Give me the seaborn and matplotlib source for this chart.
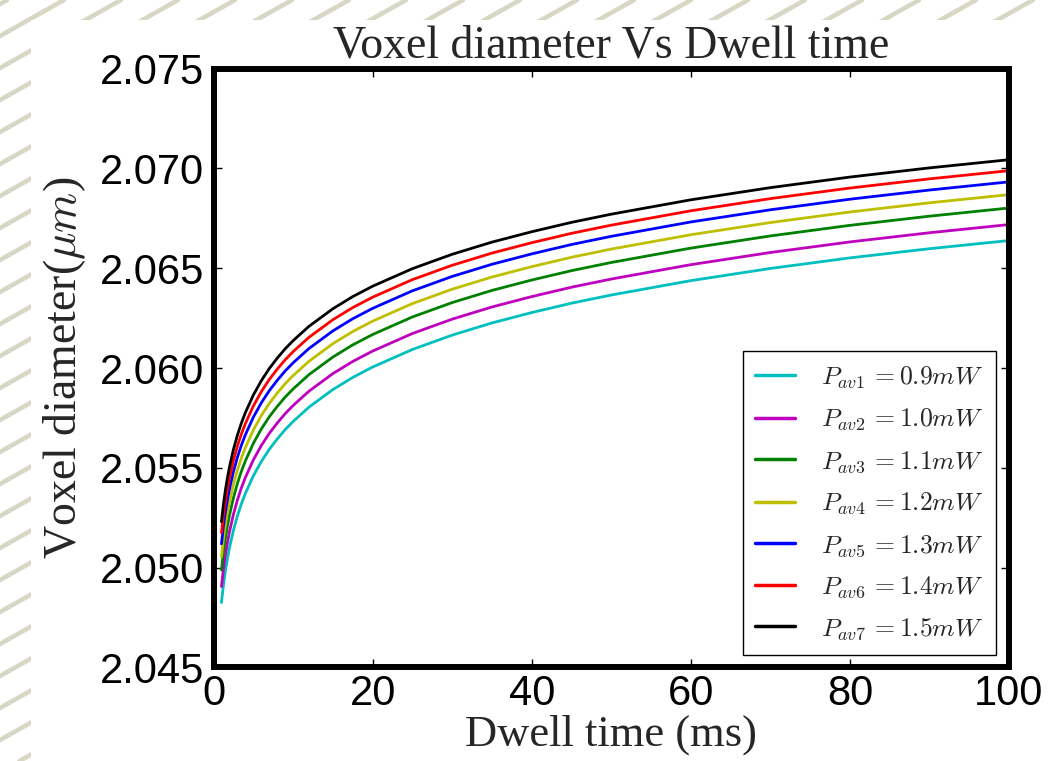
import matplotlib
matplotlib.use("Agg")
import matplotlib.pyplot as plt
from matplotlib.lines import Line2D
from matplotlib.patches import Rectangle
import seaborn as sns
import pandas as pd

# ---- data ----
dwell_time = [1, 1.25, 1.5, 1.75, 2, 2.5, 3, 3.5, 4, 5, 6, 7, 8, 9, 10, 12, 15, 17.5, 20,
              25, 30, 35, 40, 45, 50, 60, 70, 80, 90, 100]

d_p09 = [2.04825, 2.04913, 2.04985, 2.05045, 2.05098, 2.05186, 2.05258, 2.05319, 2.05371, 2.05459,
         2.05531, 2.05592, 2.05644, 2.05691, 2.05732, 2.05804, 2.05892, 2.05953, 2.06005, 2.06093,
         2.06165, 2.06226, 2.06278, 2.06325, 2.06366, 2.06438, 2.06499, 2.06552, 2.06598, 2.06639]
d_p10 = [2.04905, 2.04993, 2.05065, 2.05125, 2.05178, 2.05266, 2.05338, 2.05399, 2.05451, 2.05539,
         2.05611, 2.05672, 2.05724, 2.05771, 2.05812, 2.05884, 2.05972, 2.06033, 2.06085, 2.06173,
         2.06245, 2.06306, 2.06358, 2.06405, 2.06446, 2.06518, 2.06579, 2.06632, 2.06678, 2.06719]
d_p11 = [2.04988, 2.05076, 2.05148, 2.05208, 2.05261, 2.05349, 2.05421, 2.05482, 2.05534, 2.05622,
         2.05694, 2.05755, 2.05807, 2.05854, 2.05895, 2.05967, 2.06055, 2.06116, 2.06168, 2.06256,
         2.06328, 2.06389, 2.06441, 2.06488, 2.06529, 2.06601, 2.06662, 2.06715, 2.06761, 2.06802]
d_p12 = [2.05055, 2.05143, 2.05215, 2.05275, 2.05328, 2.05416, 2.05488, 2.05549, 2.05601, 2.05689,
         2.05761, 2.05822, 2.05874, 2.05921, 2.05962, 2.06034, 2.06122, 2.06183, 2.06235, 2.06323,
         2.06395, 2.06456, 2.06508, 2.06555, 2.06596, 2.06668, 2.06729, 2.06782, 2.06828, 2.06869]
d_p13 = [2.05119, 2.05207, 2.05279, 2.05339, 2.05392, 2.05480, 2.05552, 2.05613, 2.05665, 2.05753,
         2.05825, 2.05886, 2.05938, 2.05985, 2.06026, 2.06098, 2.06186, 2.06247, 2.06299, 2.06387,
         2.06459, 2.06520, 2.06572, 2.06619, 2.06660, 2.06732, 2.06793, 2.06846, 2.06892, 2.06933]
d_p14 = [2.05175, 2.05263, 2.05335, 2.05395, 2.05448, 2.05536, 2.05608, 2.05669, 2.05721, 2.05809,
         2.05881, 2.05942, 2.05994, 2.06041, 2.06082, 2.06154, 2.06242, 2.06303, 2.06355, 2.06443,
         2.06515, 2.06576, 2.06628, 2.06675, 2.06716, 2.06788, 2.06849, 2.06902, 2.06948, 2.06989]
d_p15 = [2.05230, 2.05318, 2.05390, 2.05450, 2.05503, 2.05591, 2.05663, 2.05724, 2.05776, 2.05864,
         2.05936, 2.05997, 2.06049, 2.06096, 2.06137, 2.06209, 2.06297, 2.06358, 2.06410, 2.06498,
         2.06570, 2.06631, 2.06683, 2.06730, 2.06771, 2.06843, 2.06904, 2.06957, 2.07003, 2.07044]

series_labels = [r"$P_{av1}\,{=}0.9mW$", r"$P_{av2}\,{=}1.0mW$", r"$P_{av3}\,{=}1.1mW$",
                 r"$P_{av4}\,{=}1.2mW$", r"$P_{av5}\,{=}1.3mW$", r"$P_{av6}\,{=}1.4mW$",
                 r"$P_{av7}\,{=}1.5mW$"]
series_values = [d_p09, d_p10, d_p11, d_p12, d_p13, d_p14, d_p15]
series_colors = ["c", "m", "g", "y", "b", "r", "k"]

x_ticks = [0, 20, 40, 60, 80, 100]
y_ticks = [2.045, 2.050, 2.055, 2.060, 2.065, 2.070, 2.075]

# ---- style ----
sns.set_style("ticks")
plt.rcParams["font.family"] = ["Liberation Sans", "DejaVu Sans"]
plt.rcParams["mathtext.fontset"] = "cm"

W, H = 1048, 761
fig = plt.figure(figsize=(W / 100, H / 100), dpi=100)
fig.patch.set_facecolor("white")

# striped backdrop along the left and top edges
slope_run = 761 * 57 / 32
for k in range(-2, 48):
    x0 = 7 + 57 * k
    fig.add_artist(Line2D([(x0 - slope_run) / W, x0 / W], [0, 1], transform=fig.transFigure,
                          color="#d8d6c4", lw=3.3, zorder=-3))
fig.add_artist(Rectangle((31 / W, 0), 1 - 31 / W, 1 - 20 / H, transform=fig.transFigure,
                         facecolor="white", edgecolor="none", zorder=-2))

ax = fig.add_axes([213.5 / W, 1 - 667.4 / H, (1009 - 213.5) / W, (667.4 - 68.7) / H])
ax.set_facecolor("white")

for vals, lab, col in zip(series_values, series_labels, series_colors):
    df = pd.DataFrame({"t": dwell_time, "d": vals})
    sns.lineplot(data=df, x="t", y="d", color=col, lw=2, label=lab, ax=ax, legend=False)

ax.set_xlim(0, 100)
ax.set_ylim(2.045, 2.075)
ax.set_xticks(x_ticks)
ax.set_yticks(y_ticks)
ax.set_xticklabels([str(v) for v in x_ticks])
ax.set_yticklabels([f"{v:.3f}" for v in y_ticks])
ax.tick_params(direction="in", length=6, width=1, top=True, right=True,
               labelsize=30, pad=7, colors="black")
ax.tick_params(axis="x", pad=5)
for sp in ax.spines.values():
    sp.set_linewidth(4.3)
    sp.set_color("black")

ax.set_title("Voxel diameter Vs Dwell time", family="Liberation Serif", fontsize=33, pad=8)
ax.set_xlabel("Dwell time (ms)", family="Liberation Serif", fontsize=32, labelpad=0)
ax.set_ylabel(r"Voxel diameter($\mu m$)", family="Liberation Serif", fontsize=33, labelpad=8)

leg = ax.legend(loc="lower right", fontsize=18.5, frameon=True, fancybox=False,
                edgecolor="black", framealpha=1, handlelength=1.55, handletextpad=1.0,
                labelspacing=0.62, borderpad=0.5, borderaxespad=0.5)
leg.get_frame().set_linewidth(1.0)
for h in leg.legend_handles:
    h.set_linewidth(2.5)

fig.savefig("out.png", dpi=100, facecolor=fig.get_facecolor())
